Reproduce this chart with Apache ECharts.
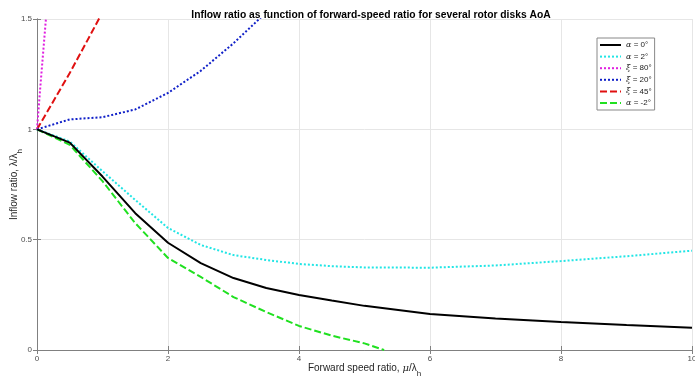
<!DOCTYPE html>
<html><head><meta charset="utf-8">
<script src="https://cdn.jsdelivr.net/npm/echarts@6/dist/echarts.min.js"></script>
<style>html,body{margin:0;padding:0;background:#fff}#c{width:695px;height:378px}</style>
</head><body><div id="c"></div>
<script>
const xTicks = [0, 2, 4, 6, 8, 10];
const yTicks = [0, 0.5, 1, 1.5];

const muA0 = [0,0.5,1,1.5,2,2.5,3,3.5,4,4.5,5,6,7,8,9,10];
const lamA0 = [1,0.94,0.786,0.62,0.486,0.394,0.326,0.281,0.249,0.224,0.2,0.163,0.143,0.127,0.113,0.101];

const muA2 = [0,0.5,1,1.5,2,2.5,3,3.5,4,4.5,5,6,7,8,9,10];
const lamA2 = [1,0.945,0.81,0.68,0.553,0.476,0.43,0.408,0.39,0.38,0.374,0.373,0.383,0.403,0.425,0.45];

const muX80 = [0,0.05,0.1,0.15];
const lamX80 = [1,1.19,1.37,1.55];

const muX20 = [0,0.5,1,1.5,2,2.5,3,3.5];
const lamX20 = [1,1.045,1.055,1.09,1.165,1.265,1.39,1.53];

const muX45 = [0,0.5,1];
const lamX45 = [1,1.255,1.53];

const muAm2 = [0,0.5,1,1.5,2,2.5,3,3.5,4,4.5,5,5.3];
const lamAm2 = [1,0.93,0.765,0.575,0.417,0.331,0.24,0.172,0.109,0.065,0.03,0];

const names = ['α = 0°','α = 2°','ξ = 80°','ξ = 20°','ξ = 45°','α = -2°'];
const colors = ['#000000','#22e5e5','#e020e0','#1020c8','#e01010','#20e020'];
const styles = ['solid','dotted','dotted','dotted',[7,3],[7,3]];
const xs = [muA0, muA2, muX80, muX20, muX45, muAm2];
const ys = [lamA0, lamA2, lamX80, lamX20, lamX45, lamAm2];

const font = 'Liberation Sans, Arial, sans-serif';
const chart = echarts.init(document.getElementById('c'));
const series = names.map((n, i) => ({
  name: n, type: 'line', symbol: 'none', clip: true,
  data: xs[i].map((x, j) => [x, ys[i][j]]),
  lineStyle: { color: colors[i], width: 2, type: styles[i] },
  itemStyle: { color: colors[i] },
  z: 10 - i
}));

const axisCommon = {
  axisLine: { show: true, lineStyle: { color: '#808080', width: 1 } },
  axisTick: { show: true, inside: true, length: 4, lineStyle: { color: '#808080' } },
  splitLine: { show: true, lineStyle: { color: '#e6e6e6', width: 1 } },
};

chart.setOption({
  animation: false,
  title: {
    text: 'Inflow ratio as function of forward-speed ratio for several rotor disks AoA',
    left: 366, top: 5, textAlign: 'center',
    textStyle: { fontFamily: font, fontSize: 10.3, fontWeight: 'bold', color: '#000' }
  },
  grid: { left: 37, right: 3, top: 19, bottom: 28, show: false, outerBoundsMode: 'none', containLabel: false },
  legend: {
    orient: 'vertical', left: 597, top: 38,
    data: names,
    itemWidth: 21, itemHeight: 8, itemGap: 3.6,
    itemStyle: { opacity: 0 },
    backgroundColor: '#fff', borderColor: '#888', borderWidth: 1,
    padding: [3, 3, 3, 2],
    formatter: n => '{i|' + n.charAt(0) + '}' + n.slice(1),
    textStyle: { fontFamily: font, fontSize: 8, color: '#222',
      rich: { i: { fontFamily: 'DejaVu Serif, serif', fontStyle: 'italic', fontSize: 8, color: '#222' } } }
  },
  xAxis: [{
    type: 'value', min: 0, max: 10, interval: 2,
    ...axisCommon,
    axisLabel: { fontFamily: font, fontSize: 8, color: '#4d4d4d', margin: 5 },
    name: '{t|Forward speed ratio, }{i|μ}{t|/λ}{s|h}',
    nameLocation: 'middle', nameGap: 13, nameMoveOverlap: false,
    nameTextStyle: { fontFamily: font, fontSize: 10, color: '#262626', verticalAlign: 'top',
      rich: { t: { fontFamily: font, fontSize: 10, color: '#262626', lineHeight: 15, verticalAlign: 'top' },
              i: { fontFamily: 'DejaVu Serif, serif', fontStyle: 'italic', fontSize: 10, color: '#262626', lineHeight: 15, verticalAlign: 'top' },
              s: { fontFamily: font, fontSize: 8, color: '#262626', lineHeight: 15, verticalAlign: 'bottom' } } }
  }, {
    type: 'value', min: 0, max: 10, interval: 2, position: 'top',
    ...axisCommon, splitLine: { show: false },
    axisLabel: { show: false }
  }],
  yAxis: [{
    type: 'value', min: 0, max: 1.5, interval: 0.5,
    ...axisCommon,
    axisLabel: { fontFamily: font, fontSize: 8, color: '#4d4d4d', margin: 5,
      formatter: v => String(v) },
    name: '{t|Inflow ratio, λ/λ}{s|h}',
    nameLocation: 'middle', nameGap: 13, nameMoveOverlap: false,
    nameTextStyle: { fontFamily: font, fontSize: 10, color: '#262626',
      rich: { t: { fontFamily: font, fontSize: 10, color: '#262626', lineHeight: 15, verticalAlign: 'top' },
              s: { fontFamily: font, fontSize: 8, color: '#262626', lineHeight: 15, verticalAlign: 'bottom' } } }
  }, {
    type: 'value', min: 0, max: 1.5, interval: 0.5, position: 'right',
    ...axisCommon, splitLine: { show: false },
    axisLabel: { show: false }
  }],
  series: series
});
</script></body></html>
